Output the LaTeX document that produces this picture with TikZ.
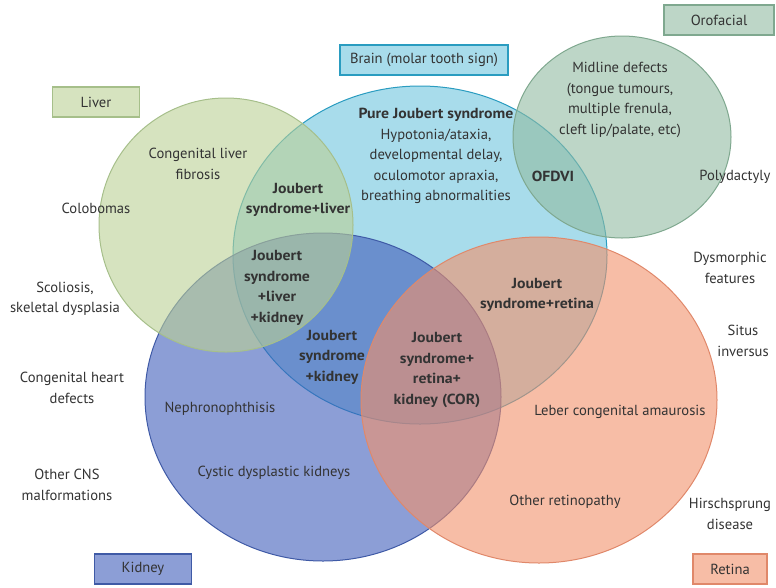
\documentclass[tikz,border=0pt]{standalone}
\usepackage{fontspec}
\setmainfont{PT Sans}[BoldFeatures={FakeStretch=1.08}]
\usepackage{tikz}
\usetikzlibrary{positioning}

\definecolor{txt}{HTML}{333333}
\definecolor{liverfill}{HTML}{BBD095}
\definecolor{liverline}{HTML}{A6BF8A}
\definecolor{brainfill}{HTML}{6EC4DD}
\definecolor{brainline}{HTML}{2A9CC0}
\definecolor{orofill}{HTML}{91BBA1}
\definecolor{oroline}{HTML}{7FA88F}
\definecolor{kidneyfill}{HTML}{405DBB}
\definecolor{kidneyline}{HTML}{3F5AA6}
\definecolor{retinafill}{HTML}{F2916A}
\definecolor{retinaline}{HTML}{E0886A}

\begin{document}
\begin{tikzpicture}[x=1pt, y=-1pt,
  every node/.style={font=\fontsize{14.6}{20.5}\selectfont, align=center, text=txt},
  blob/.style={fill opacity=0.6, line width=1pt},
  tag/.style={draw, line width=1.2pt, minimum height=30pt, inner sep=0pt}]
  \useasboundingbox (0,0) rectangle (776,587);

  % the five sets
  \foreach \c/\x/\y/\rx/\ry in {brain/420/255/187/169, kidney/323/397/178/164,
      retina/539/400/178/163, liver/226/225/127/127, oro/622/137/109/101} {
    \draw[blob, draw=\c line, fill=\c fill] (\x,\y) ellipse [x radius=\rx pt, y radius=\ry pt];
  }

  \node(Liver)     [tag, draw=liverline, fill=liverfill!60, minimum width=87pt]   at (96,102)  {Liver};
  \node(Brain)     [tag, draw=brainline, fill=brainfill!60, minimum width=168pt]  at (424,60)  {Brain (molar tooth sign)};
  \node(Orofacial) [tag, draw=oroline, fill=orofill!60, minimum width=110pt]      at (719,20)  {Orofacial};
  \node(Kidney)    [tag, draw=kidneyline, fill=kidneyfill!60, minimum width=97pt] at (143,569) {Kidney};
  \node(Retina)    [tag, draw=retinaline, fill=retinafill!60, minimum width=74pt] at (730,569) {Retina};

  \node(LiverFib)  at (198,164) {Congenital liver\\fibrosis};
  \node(Colob)     at (96,208)  {Colobomas};
  \node(JSLiver)   at (298,200) {\bfseries Joubert\\\bfseries syndrome+liver};
  \node(PureJS)    at (436,156) {\bfseries Pure Joubert syndrome\\Hypotonia/ataxia,\\developmental delay,\\oculomotor apraxia,\\breathing abnormalities};
  \node(Midline)   at (620,100) {Midline defects\\(tongue tumours,\\multiple frenula,\\cleft lip/palate, etc)};
  \node(OFDVI)     at (553,176) {\bfseries OFDVI};
  \node(Polydac)   at (735,177) {Polydactyly};

  \node(JSLivKid)  at (277,288) {\bfseries Joubert\\\bfseries syndrome\\\bfseries +liver\\\bfseries +kidney};
  \node(Scolio)    at (65,299)  {Scoliosis,\\skeletal dysplasia};
  \node(JSKidney)  at (332,357) {\bfseries Joubert\\\bfseries syndrome\\\bfseries +kidney};
  \node(JSRetina)  at (537,295) {\bfseries Joubert\\\bfseries syndrome+retina};
  \node(COR)       at (437,370) {\bfseries Joubert\\\bfseries syndrome+\\\bfseries retina+\\\bfseries kidney (COR)};
  \node(Dysmorph)  at (730,268) {Dysmorphic\\features};
  \node(Situs)     at (743,341) {Situs\\inversus};
  \node(Heart)     at (72,388)  {Congenital heart\\defects};
  \node(Nephro)    at (220,409) {Nephronophthisis};
  \node(Leber)     at (620,412) {Leber congenital amaurosis};
  \node(Cystic)    at (274,473) {Cystic dysplastic kidneys};
  \node(CNS)       at (67,485)  {Other CNS\\malformations};
  \node(Retinop)   at (565,502) {Other retinopathy};
  \node(Hirsch)    at (730,514) {Hirschsprung\\disease};
\end{tikzpicture}
\end{document}
